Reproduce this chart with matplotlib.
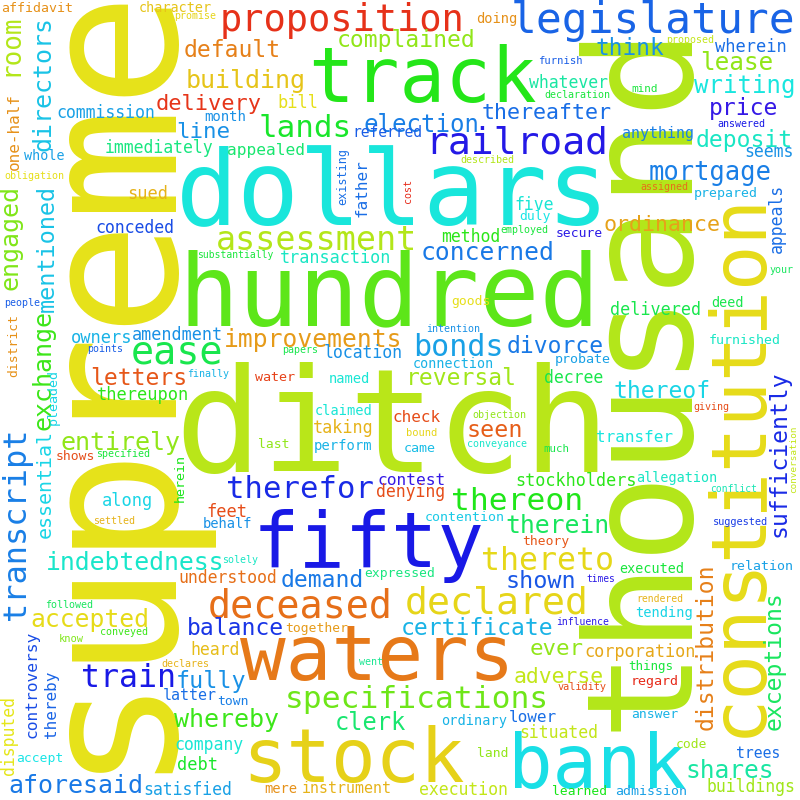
import colorsys
import matplotlib
matplotlib.use("Agg")
import matplotlib.pyplot as plt

# words of the cloud and their weight (drawn font size, px)
words = [
    "supreme", "thousand", "ditch", "hundred", "dollars", "fifty", "waters", "stock", "bank", "track",
    "constitution", "proposition", "legislature", "railroad", "deceased", "declared", "ease", "lands", "therefor", "thereon",
    "thereto", "train", "specifications", "bonds", "transcript", "assessment", "improvements", "indebtedness", "accepted", "aforesaid",
    "entirely", "whereby", "concerned", "mortgage", "building", "writing", "lease", "deposit", "price", "think",
    "complained", "default", "delivery", "election", "line", "letters", "reversal", "divorce", "thereof", "thereafter",
    "ordinance", "demand", "balance", "fully", "clerk", "seen", "therein", "shown", "certificate", "ever",
    "adverse", "shares", "directors", "room", "engaged", "mentioned", "exchange", "sufficiently", "distribution", "exceptions",
    "essential", "commission", "immediately", "appealed", "conceded", "transaction", "owners", "amendment", "location", "thereupon",
    "sued", "bill", "whatever", "wherein", "method", "five", "delivered", "decree", "appeals", "father",
    "one-half", "along", "feet", "understood", "heard", "company", "debt", "satisfied", "taking", "contest",
    "denying", "check", "transfer", "stockholders", "corporation", "lower", "situated", "buildings", "execution", "controversy",
    "thereby", "disputed", "latter", "anything", "instrument", "trees", "referred", "month", "whole", "affidavit",
    "character", "doing", "water", "named", "prepared", "secure", "duly", "goods", "deed", "furnished",
    "connection", "probate", "shows", "claimed", "last", "perform", "behalf", "together", "town", "accept",
    "mere", "expressed", "came", "allegation", "contention", "theory", "relation", "executed", "tending", "regard",
    "ordinary", "answer", "code", "land", "learned", "admission", "things", "seems", "herein", "pleaded",
    "district", "existing", "promise", "proposed", "furnish", "mind", "declaration", "answered", "described", "assigned",
    "employed", "your", "intention", "obligation", "substantially", "people", "points", "papers", "finally", "specified",
    "settled", "solely", "followed", "conveyed", "know", "declares", "went", "objection", "giving", "bound",
    "conveyance", "much", "conflict", "suggested", "times", "rendered", "influence", "validity", "cost", "conversation",
]
weights = [
    190, 148, 145, 100, 103, 77, 76, 74, 74, 76,
    75.5, 37, 43, 38, 38.5, 38.3, 38.5, 31, 30.7, 31.4,
    31.6, 31.6, 31.3, 30, 32, 33.5, 24.6, 24.7, 24.6, 25,
    25, 25, 24.6, 25.5, 25, 24, 24.4, 23, 23, 22.7,
    23, 23, 22, 24, 22.5, 23, 23, 23, 23, 21.6,
    21.6, 23, 23, 23.4, 23.7, 23.4, 24.8, 23.4, 23, 22.5,
    21.4, 24.5, 25, 26, 25, 23.5, 25, 23, 23, 23,
    20, 16.5, 16.5, 16.3, 16.5, 16.7, 17, 16.7, 16.5, 17,
    17, 17, 16.5, 17, 16.5, 16.5, 16.7, 16.5, 16.5, 16,
    16, 17, 17, 16.5, 16.5, 16.5, 17, 16.5, 16.8, 16.3,
    16.5, 16, 16, 16.7, 16.9, 16, 16.5, 16.5, 16.5, 16.3,
    16, 16.5, 15, 15, 15, 14.8, 14.6, 14, 13.5, 13.3,
    13.5, 13.7, 13.4, 13.7, 13.3, 13, 13, 13, 13.5, 13.3,
    13.5, 13.4, 13, 13.6, 13, 13.9, 13.7, 13, 13, 13,
    13.8, 13, 13.4, 13.5, 13.3, 13, 13.3, 13.5, 13.6, 13.4,
    13.6, 13, 13, 13, 13, 13.3, 12.5, 16.5, 13.4, 13.4,
    13, 11.7, 10, 10, 10.5, 11, 10, 10, 10, 10,
    10, 10, 10, 10, 9.8, 10, 10, 10, 10, 10,
    10, 10, 10, 10, 10.4, 10, 10, 10, 10, 10.4,
    10, 10.8, 9.8, 10.2, 9.6, 9.8, 9.8, 10.2, 10, 9.3,
]

# hue of each word (hsl(h, 80%, 50%) palette)
hues = [
    59, 75, 73, 100, 177, 240, 28, 54, 182, 117,
    57, 7, 218, 243, 25, 55, 135, 125, 235, 118,
    56, 240, 95, 200, 210, 75, 38, 172, 57, 212,
    85, 110, 212, 210, 50, 178, 85, 170, 248, 205,
    85, 30, 8, 210, 205, 18, 80, 212, 185, 215,
    40, 212, 232, 205, 145, 20, 140, 222, 195, 85,
    70, 160, 190, 75, 90, 190, 110, 235, 30, 140,
    185, 200, 150, 145, 225, 170, 195, 205, 205, 115,
    45, 58, 160, 215, 115, 175, 135, 135, 215, 215,
    35, 185, 15, 25, 48, 175, 125, 200, 45, 248,
    15, 15, 178, 115, 42, 215, 70, 80, 70, 225,
    218, 60, 215, 210, 45, 215, 220, 205, 200, 35,
    50, 35, 12, 175, 195, 245, 180, 58, 135, 170,
    195, 200, 15, 175, 85, 195, 205, 38, 210, 180,
    35, 150, 192, 170, 188, 18, 200, 130, 185, 5,
    195, 195, 80, 85, 120, 200, 130, 205, 120, 185,
    35, 215, 55, 70, 220, 130, 130, 240, 75, 25,
    130, 140, 205, 58, 130, 220, 220, 135, 195, 130,
    45, 170, 140, 110, 90, 45, 155, 85, 15, 55,
    172, 135, 165, 230, 245, 45, 245, 15, 5, 70,
]

# layout of the reference cloud (pixels): left edge / baseline,
# for vertical words baseline x / bottom end
pos_x = [
    174, 697, 183, 185, 182, 257, 245, 247, 512, 313,
    767, 222, 513, 428, 210, 407, 133, 260, 228, 453,
    483, 83, 287, 415, 28, 218, 225, 47, 32, 10,
    62, 176, 422, 650, 187, 695, 702, 697, 710, 597,
    338, 185, 157, 365, 178, 92, 407, 508, 615, 483,
    605, 282, 188, 177, 336, 468, 507, 507, 402, 531,
    515, 687, 53, 20, 20, 56, 53, 788, 715, 783,
    53, 57, 106, 228, 96, 281, 72, 133, 325, 98,
    128, 278, 530, 716, 442, 515, 611, 545, 783, 368,
    20, 103, 207, 179, 191, 175, 178, 144, 314, 378,
    377, 393, 597, 516, 585, 510, 520, 707, 420, 38,
    57, 15, 164, 623, 303, 737, 353, 205, 25, 2,
    140, 477, 256, 330, 695, 556, 520, 452, 712, 709,
    414, 556, 56, 316, 259, 315, 204, 286, 218, 17,
    265, 365, 405, 637, 426, 523, 730, 620, 636, 631,
    442, 632, 677, 478, 553, 616, 629, 745, 185, 58,
    18, 347, 175, 667, 539, 632, 545, 718, 461, 641,
    501, 770, 427, 5, 198, 5, 88, 283, 188, 97,
    94, 223, 46, 101, 59, 162, 360, 473, 694, 407,
    468, 544, 711, 714, 587, 637, 557, 558, 412, 797,
]
pos_y = [
    773, 731, 472, 325, 225, 567, 680, 782, 788, 102,
    737, 31, 33, 153, 617, 613, 363, 137, 498, 510,
    570, 687, 708, 356, 620, 250, 347, 570, 627, 793,
    450, 727, 260, 180, 88, 93, 70, 147, 115, 55,
    47, 57, 110, 132, 138, 385, 385, 353, 398, 119,
    231, 587, 635, 688, 730, 437, 533, 588, 635, 655,
    683, 778, 151, 76, 290, 312, 430, 537, 730, 730,
    538, 118, 153, 155, 233, 263, 343, 340, 358, 400,
    199, 108, 88, 52, 242, 210, 315, 383, 253, 217,
    170, 506, 517, 583, 655, 750, 770, 795, 433, 485,
    497, 422, 442, 486, 657, 722, 738, 792, 795, 738,
    738, 775, 700, 138, 793, 758, 137, 121, 160, 12,
    12, 23, 381, 383, 197, 237, 220, 305, 307, 344,
    368, 363, 460, 415, 448, 450, 528, 632, 705, 762,
    793, 577, 452, 482, 521, 545, 570, 573, 617, 685,
    725, 718, 748, 757, 795, 795, 670, 157, 502, 425,
    377, 205, 19, 43, 64, 92, 98, 127, 163, 190,
    233, 273, 332, 179, 258, 306, 352, 353, 377, 457,
    524, 563, 608, 635, 642, 667, 665, 418, 410, 436,
    447, 452, 492, 525, 582, 602, 625, 690, 203, 493,
]
vertical_words = {
    "supreme", "thousand", "constitution", "transcript", "directors", "room",
    "engaged", "mentioned", "exchange", "sufficiently", "distribution",
    "exceptions", "essential", "appeals", "father", "one-half", "controversy",
    "thereby", "disputed", "herein", "pleaded", "district", "existing", "cost",
    "conversation",
}

W = H = 800
DPI = 100

fig = plt.figure(figsize=(W / DPI, H / DPI), dpi=DPI, facecolor="white")
ax = fig.add_axes([0, 0, 1, 1])
ax.set_xlim(0, W)
ax.set_ylim(H, 0)
ax.axis("off")

for word, size, hue, x, y in zip(words, weights, hues, pos_x, pos_y):
    color = colorsys.hls_to_rgb(hue / 360.0, 0.5, 0.8)
    if word in vertical_words:
        # Agg draws rotated text with the glyph bearing pushed sideways,
        # so pull it back by roughly one bearing
        ax.text(x - 0.09 * size, y, word, rotation=90, rotation_mode="anchor",
                ha="left", va="baseline", color=color,
                fontsize=size * 72 / DPI, family="DejaVu Sans Mono")
    else:
        ax.text(x - 0.06 * size, y, word, ha="left", va="baseline", color=color,
                fontsize=size * 72 / DPI, family="DejaVu Sans Mono")

fig.savefig("out.png", dpi=DPI, facecolor="white")
